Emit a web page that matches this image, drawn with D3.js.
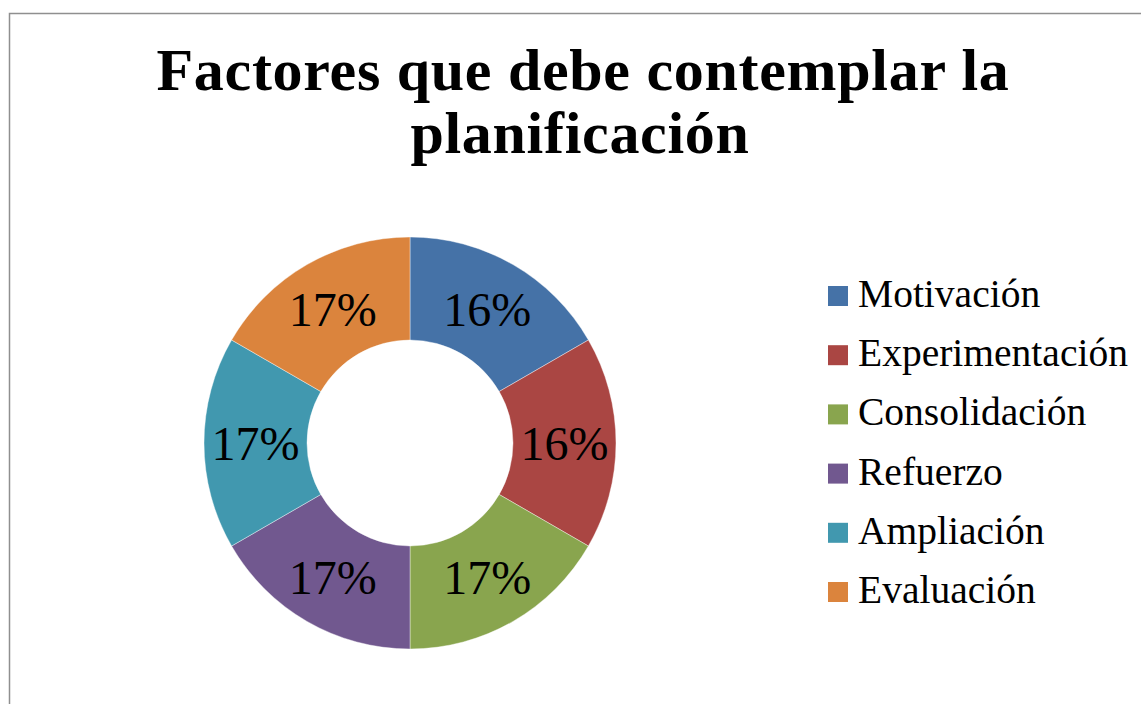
<!DOCTYPE html>
<html lang="es">
<head>
<meta charset="UTF-8" />
<title>Factores que debe contemplar la planificación</title>
<style>
  body { margin: 0; background: #fff; }
  svg { display: block; }
  text { font-family: "Liberation Serif", "DejaVu Serif", serif; fill: #000; }
</style>
</head>
<body>
<script src="https://cdn.jsdelivr.net/npm/d3@7"></script>
<div id="app"></div>
<script>
// datos
const categories = ["Motivación", "Experimentación", "Consolidación", "Refuerzo", "Ampliación", "Evaluación"];
const shares = [1, 1, 1, 1, 1, 1];            // the six slices are drawn equal
const pctLabels = ["16%", "16%", "17%", "17%", "17%", "17%"];
const titleLines = ["Factores que debe contemplar la", "planificación"];
const colors = ["#4572a7", "#aa4643", "#89a54e", "#71588f", "#4198af", "#db843d"];

const w = 1141, h = 704;
const cx = 410, cy = 443;
const outerR = 206, innerR = 103;

const svg = d3.select("#app").append("svg")
  .attr("width", w)
  .attr("height", h);

// marco
svg.append("rect")
  .attr("x", 9.5).attr("y", 13.5)
  .attr("width", 1300).attr("height", 900)
  .attr("fill", "none")
  .attr("stroke", "#8f8f8f")
  .attr("stroke-width", 1.5);

// ajusta el tamaño de letra para que el texto ocupe el ancho dado
function fitFont(sel, targetW) {
  sel.style("font-size", "100px");
  const len = sel.node().getComputedTextLength();
  const fs = 100 * targetW / len;
  sel.style("font-size", fs + "px");
  return fs;
}

// titulo: tamaño fijo, espaciado ajustado al ancho
const titleSize = 60;
const t1 = svg.append("text")
  .attr("x", 583).attr("y", 90)
  .attr("text-anchor", "middle")
  .style("font-weight", "bold")
  .style("font-size", titleSize + "px")
  .text(titleLines[0]);
const ls = (853 - t1.node().getComputedTextLength()) / titleLines[0].length;
t1.style("letter-spacing", ls + "px");

svg.append("text")
  .attr("x", 580).attr("y", 153)
  .attr("text-anchor", "middle")
  .style("font-weight", "bold")
  .style("font-size", titleSize + "px")
  .style("letter-spacing", ls + "px")
  .text(titleLines[1]);

// dona
const pie = d3.pie().sort(null).value(d => d);
const arcs = pie(shares);
const arc = d3.arc().innerRadius(innerR).outerRadius(outerR);
const labelArc = d3.arc().innerRadius((innerR + outerR) / 2).outerRadius((innerR + outerR) / 2);

const g = svg.append("g").attr("transform", `translate(${cx},${cy})`);

g.selectAll("path")
  .data(arcs)
  .enter()
  .append("path")
  .attr("d", arc)
  .attr("fill", (d, i) => colors[i])
  .attr("stroke", "#fff")
  .attr("stroke-width", 0.4);

const lbl = g.selectAll("text.pct")
  .data(arcs)
  .enter()
  .append("text")
  .attr("class", "pct")
  .attr("text-anchor", "middle")
  .attr("x", d => labelArc.centroid(d)[0])
  .attr("y", d => labelArc.centroid(d)[1])
  .attr("dy", "0.36em")
  .text((d, i) => pctLabels[i]);
const pctSize = fitFont(d3.select(lbl.nodes()[2]), 88);
lbl.style("font-size", pctSize + "px");

// leyenda
const legY = d3.scalePoint()
  .domain(categories)
  .range([296, 592]);

const legend = svg.append("g").attr("class", "legend");
const rows = legend.selectAll("g")
  .data(categories)
  .enter()
  .append("g")
  .attr("transform", d => `translate(828,${legY(d)})`);

rows.append("rect")
  .attr("x", 0).attr("y", -10)
  .attr("width", 20).attr("height", 20)
  .attr("fill", (d, i) => colors[i]);

const legText = rows.append("text")
  .attr("x", 30)
  .attr("y", 11)
  .text(d => d);
const legSize = fitFont(d3.select(legText.nodes()[1]), 270);
legText.style("font-size", legSize + "px");
</script>
</body>
</html>
